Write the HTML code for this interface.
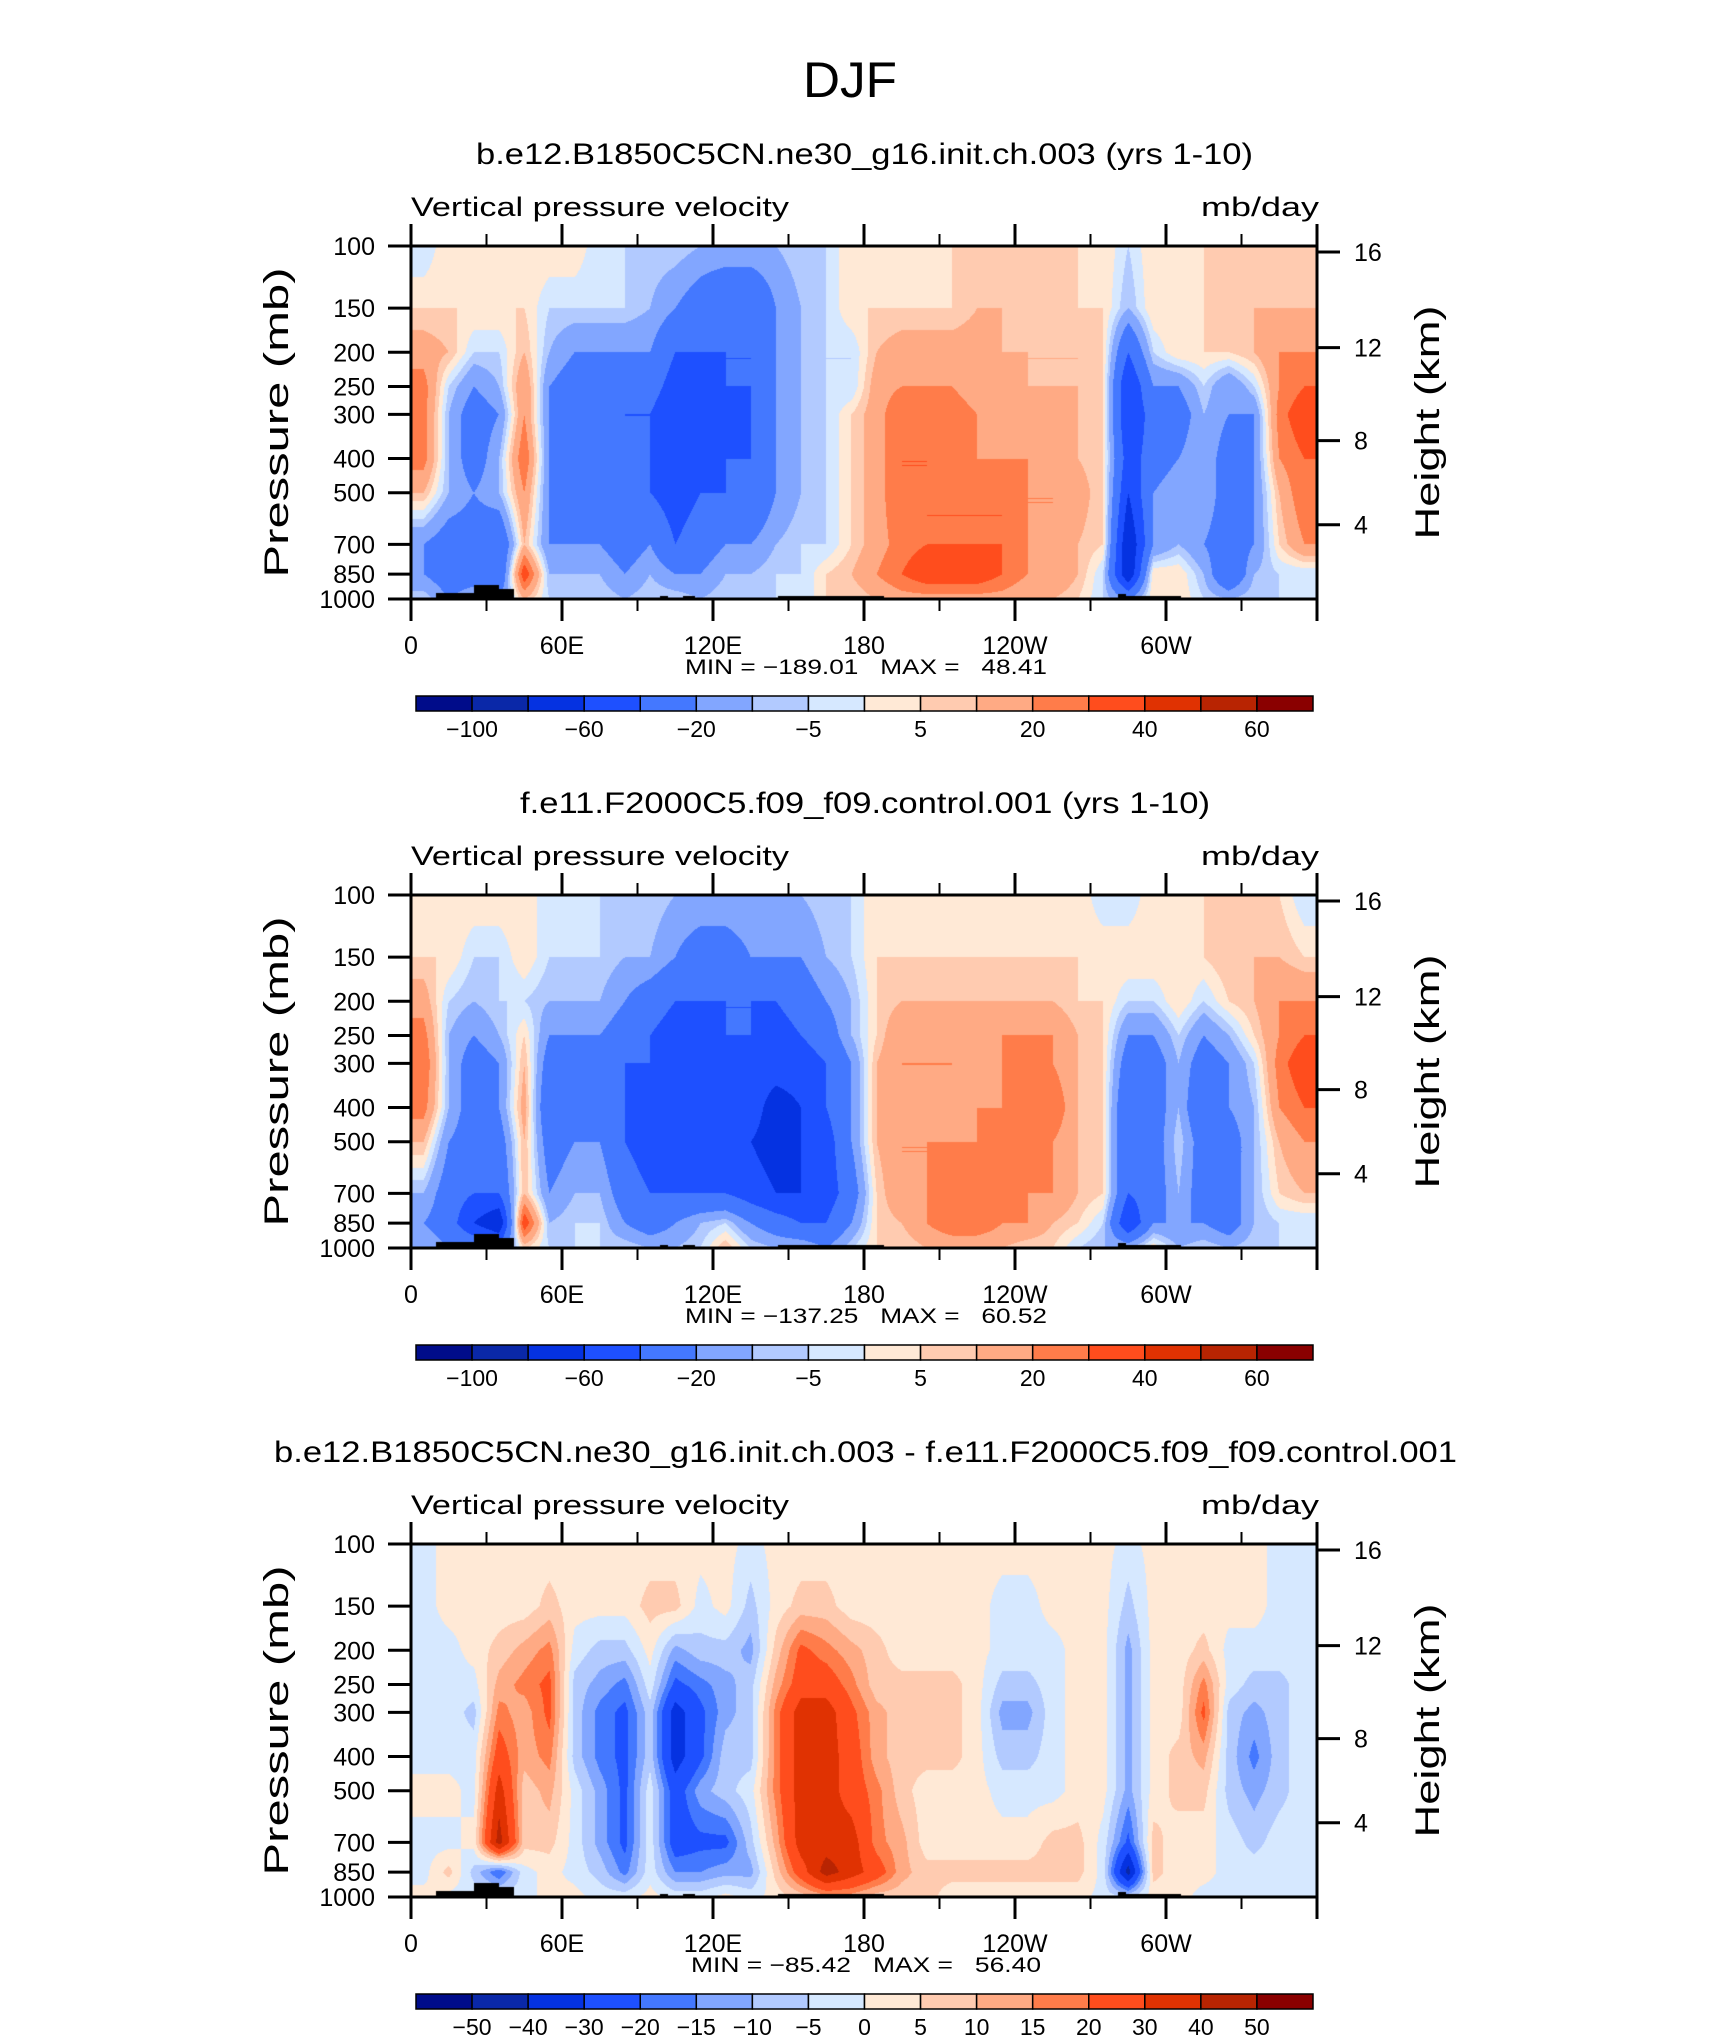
<!DOCTYPE html>
<html><head><meta charset="utf-8"><title>DJF Vertical pressure velocity</title>
<style>
html,body{margin:0;padding:0;background:#fff;}
#root{position:relative;width:1710px;height:2038px;overflow:hidden;background:#fff;}
canvas{position:absolute;}
svg{position:absolute;left:0;top:0;}
text{font-family:"Liberation Sans",sans-serif;fill:#000;white-space:pre;}
</style></head>
<body>
<div id="root">
<canvas id="cv0" width="906" height="353" style="left:411px;top:246px"></canvas>
<canvas id="cv1" width="906" height="353" style="left:411px;top:895px"></canvas>
<canvas id="cv2" width="906" height="353" style="left:411px;top:1544px"></canvas>
<svg id="ov" width="1710" height="2038"></svg>
</div>
<script>
// ---- data ----
const lonCenters = [5,15,25,35,45,55,65,75,85,95,105,115,125,135,145,155,165,175,185,195,205,215,225,235,245,255,265,275,285,295,305,315,325,335,345,355];
const pLevels = [100,150,200,250,300,400,500,700,850,1000];
const panel1Values = [
[-5,5,15,25,25,25,10,-20,-20,-5],[5,5,10,-5,-10,-10,-10,-30,-30,-20],[5,5,-5,-20,-30,-30,-20,-30,-30,-10],[5,5,-5,-10,-20,-10,-10,-40,-40,-20],
[5,5,10,20,20,30,20,10,40,10],[5,-5,-10,-20,-20,-20,-20,-20,-10,-5],[5,-5,-20,-30,-30,-30,-30,-20,-10,-5],[-5,-5,-20,-30,-30,-30,-30,-20,-10,-5],
[-5,-5,-20,-40,-40,-40,-40,-30,-20,-10],[-5,-10,-20,-30,-40,-40,-40,-20,-10,-5],[-5,-20,-40,-50,-60,-60,-50,-40,-20,-5],[-10,-30,-40,-50,-60,-50,-40,-30,-20,-10],
[-10,-40,-40,-40,-50,-40,-40,-20,-10,-5],[-10,-40,-40,-40,-40,-40,-40,-20,-10,-5],[-10,-20,-20,-20,-20,-20,-20,-10,-5,-5],[-5,-10,-10,-10,-10,-10,-10,-5,-5,-5],
[-5,-5,-5,-5,-5,-5,-5,-5,5,5],[5,5,-5,-5,5,5,5,5,10,5],[5,5,10,15,15,15,15,15,20,10],[5,5,15,20,30,30,30,25,30,15],
[5,5,15,20,30,30,30,30,40,15],[5,5,15,20,25,25,30,30,40,15],[5,10,15,15,20,20,30,30,40,15],[5,10,10,15,15,20,30,30,30,15],
[5,5,10,10,15,20,20,20,20,10],[5,10,10,10,15,15,20,20,20,10],[5,5,10,10,10,10,15,10,10,5],[5,5,5,5,5,5,5,5,-5,-5],
[-5,-10,-40,-60,-60,-50,-60,-80,-80,-20],[5,5,-5,-20,-30,-30,-20,-20,5,5],[5,5,5,-20,-30,-20,-10,-10,5,5],[5,5,5,-5,-10,-10,-10,-20,-10,-5],
[5,10,5,-20,-20,-30,-30,-30,-40,-10],[10,10,10,-5,-20,-20,-20,-20,-10,-5],[10,10,20,20,25,20,10,5,-5,-5],[5,10,20,30,40,30,30,20,-5,-5]
];
const panel2Values = [
[5,5,15,25,30,25,10,-10,-20,-10],[5,5,-5,-10,-10,-10,-20,-30,-30,-20],[5,-5,-10,-20,-30,-30,-30,-40,-60,-20],[5,-5,-5,-10,-20,-20,-30,-40,-80,-30],
[5,5,-5,5,10,15,10,10,40,5],[-5,-5,-10,-20,-30,-40,-30,-20,-10,-5],[-5,-5,-10,-20,-30,-30,-20,-10,-5,-5],[-5,-5,-10,-20,-20,-20,-20,-10,-5,-5],
[-5,-10,-20,-30,-40,-40,-40,-30,-20,-5],[-5,-10,-30,-40,-40,-50,-50,-40,-30,-10],[-10,-20,-40,-50,-50,-50,-50,-40,-20,-10],[-10,-30,-40,-50,-60,-60,-50,-40,-10,-5],
[-10,-30,-40,-40,-50,-50,-50,-40,-5,10],[-10,-20,-40,-40,-50,-50,-60,-50,-20,-5],[-10,-20,-40,-50,-50,-70,-70,-60,-30,-10],[-10,-20,-30,-40,-50,-60,-60,-60,-40,-10],
[-5,-10,-20,-30,-40,-40,-50,-50,-40,-20],[-5,-5,-10,-10,-20,-20,-20,-30,-20,-5],[5,5,5,5,10,10,10,5,5,5],[5,5,10,20,20,20,20,20,10,5],
[5,5,10,20,20,20,20,20,20,10],[5,5,10,20,20,20,20,30,30,10],[5,5,10,10,10,20,20,30,30,10],[5,5,10,20,20,20,30,30,20,10],
[5,5,10,20,30,30,30,20,20,5],[5,5,10,20,20,30,20,20,10,5],[5,5,5,10,10,10,10,10,5,-5],[-5,5,5,5,5,5,5,5,-5,-10],
[-5,5,-5,-20,-30,-40,-40,-40,-60,-10],[5,5,-5,-20,-30,-30,-30,-30,-20,5],[5,5,5,-5,-10,-10,-5,-10,-20,-10],[5,5,-5,-20,-30,-40,-30,-30,-20,-5],
[5,10,5,-10,-20,-20,-30,-30,-30,-10],[5,10,10,5,-5,-10,-10,-10,-10,-5],[5,10,20,20,25,20,10,5,-5,-5],[-5,5,20,30,40,30,20,10,-5,-5]
];
const panel3Values = [
[-2,-2,-2,-2,-2,-2,2,-2,-2,2],[2,2,-2,-2,-2,-2,2,-2,7,-2],[2,2,2,-2,-7,-2,-2,2,-7,-2],[2,2,7,12,17,25,35,45,-20,-2],
[2,2,12,17,12,12,7,7,-2,-2],[2,7,17,22,22,17,12,7,2,2],[2,2,-2,-7,-7,-7,-2,-2,-2,2],[2,2,-7,-12,-17,-17,-12,-12,-7,-2],
[2,2,-7,-17,-22,-22,-22,-22,-17,-2],[2,7,2,-2,-7,-7,-2,-2,-2,2],[2,7,-12,-22,-35,-35,-25,-25,-15,-2],[2,-2,-7,-17,-22,-22,-12,-22,-15,-2],
[2,2,-7,-12,-12,-7,-7,-22,-12,2],[-2,-7,-12,-7,-7,-7,-2,-7,-12,-2],[2,2,7,12,17,17,17,12,7,2],[2,7,22,25,35,35,35,35,25,7],
[2,7,17,25,35,35,35,35,45,12],[2,2,12,17,22,25,25,35,35,12],[2,2,7,7,12,12,17,17,25,7],[2,2,2,7,7,7,7,12,12,7],
[2,2,2,7,7,7,2,2,7,7],[2,2,2,7,7,7,2,2,7,2],[2,2,2,2,2,2,2,2,7,2],[2,-2,-2,-7,-12,-7,-2,2,7,2],
[2,-2,-2,-7,-12,-7,-2,2,7,2],[2,2,-2,-2,-2,-2,-2,7,7,2],[2,2,2,2,2,2,2,7,7,2],[2,2,2,2,2,2,2,-2,-2,-2],
[-2,-7,-12,-12,-12,-12,-12,-22,-45,-5],[2,2,2,2,2,2,2,7,7,2],[2,2,2,2,2,7,7,2,2,2],[2,2,7,17,22,12,7,2,2,-2],
[2,2,-2,-2,-7,-7,-7,-2,-2,-2],[2,2,-2,-7,-12,-17,-12,-7,-2,-2],[-2,-2,-2,-7,-7,-7,-7,-2,-2,-2],[-2,-2,-2,-2,-2,-2,-2,-2,-2,-2]
];
const topoStart = [10,25,35,99,108,146,281,284];
const topoEnd   = [25,35,41,102,113,188,284,306];
const topoP     = [962,910,935,980,980,983,965,983];
const levelsAbs  = [-100,-80,-60,-40,-20,-10,-5,0,5,10,20,30,40,50,60];
const levelsDiff = [-50,-40,-30,-20,-15,-10,-5,0,5,10,15,20,30,40,50];
const labelsAbs  = ["","−100","","−60","","−20","","−5","","5","","20","","40","","60",""];
const labelsDiff = ["","−50","−40","−30","−20","−15","−10","−5","0","5","10","15","20","30","40","50",""];
const palette = ["#000c8a","#0a28a8","#0532e1","#1e50ff","#4478ff","#82a6ff","#b2caff","#d6e8ff","#ffe9d6","#ffcbb0","#ffaa84","#ff7c4a","#ff4d1d","#e03202","#b82402","#8a0000"];
const titles = ["b.e12.B1850C5CN.ne30_g16.init.ch.003 (yrs 1-10)","f.e11.F2000C5.f09_f09.control.001 (yrs 1-10)","b.e12.B1850C5CN.ne30_g16.init.ch.003 - f.e11.F2000C5.f09_f09.control.001"];
const minmax = ["MIN = −189.01   MAX =   48.41","MIN = −137.25   MAX =   60.52","MIN = −85.42   MAX =   56.40"];
const pTicks = [100,150,200,250,300,400,500,700,850,1000];
const hTicks = [16,12,8,4];
const hTickP = [104,194,356,616];
const lonTicks = [0,30,60,90,120,150,180,210,240,270,300,330,360];
const lonLabels = ["0","","60E","","120E","","180","","120W","","60W","",""];

// ---- geometry ----
const PX=411, PW=906, PH=353, PY0=246, DY=649;
const xOf = lon => PX + lon/360*PW;
const yOf = (p,k) => PY0 + k*DY + (Math.log10(p)-2)*PH;
const logL = pLevels.map(p=>Math.log10(p));

function classOf(v, lev){
  let c=0;
  for(const b of lev){ if(v<0 ? v>=b : v>b) c++; }
  return c;
}
function sample(vals, lon, lp){
  let fi=(lon-5)/10; fi=Math.max(0,Math.min(lonCenters.length-1.0001,fi));
  const i=Math.floor(fi), tx=fi-i;
  let j=0; while(j<logL.length-2 && lp>logL[j+1]) j++;
  let ty=(lp-logL[j])/(logL[j+1]-logL[j]); ty=Math.max(0,Math.min(1,ty));
  const a=vals[i][j], b=vals[i+1][j], c=vals[i][j+1], d=vals[i+1][j+1];
  return (a*(1-tx)+b*tx)*(1-ty)+(c*(1-tx)+d*tx)*ty;
}
function hex(h){return [parseInt(h.slice(1,3),16),parseInt(h.slice(3,5),16),parseInt(h.slice(5,7),16)];}
const palRGB = palette.map(hex);
function drawPanel(k, vals, lev){
  const cv=document.getElementById('cv'+k), ctx=cv.getContext('2d');
  const img=ctx.createImageData(PW,PH);
  for(let y=0;y<PH;y++){
    const lp=2+(y+0.5)/PH, p=Math.pow(10,lp);
    for(let x=0;x<PW;x++){
      const lon=(x+0.5)/PW*360;
      let col;
      let topo=false;
      for(let t=0;t<topoStart.length;t++){ if(lon>=topoStart[t]&&lon<topoEnd[t]&&p>=topoP[t]){topo=true;break;} }
      if(topo) col=[0,0,0];
      else col=palRGB[classOf(sample(vals,lon,lp),lev)];
      const o=(y*PW+x)*4; img.data[o]=col[0];img.data[o+1]=col[1];img.data[o+2]=col[2];img.data[o+3]=255;
    }
  }
  ctx.putImageData(img,0,0);
}
drawPanel(0,panel1Values,levelsAbs);
drawPanel(1,panel2Values,levelsAbs);
drawPanel(2,panel3Values,levelsDiff);

// ---- overlay ----
const NS="http://www.w3.org/2000/svg", ov=document.getElementById('ov');
function el(tag,attrs,txt){const e=document.createElementNS(NS,tag);for(const k in attrs)e.setAttribute(k,attrs[k]);if(txt!==undefined)e.textContent=txt;ov.appendChild(e);return e;}
let e;
e=el('text',{x:850,y:97,'font-size':50,'text-anchor':'middle',textLength:94,lengthAdjust:'spacingAndGlyphs'},'DJF');


const titleX=[476,520,274], titleW=[777,690,1183];
for(let k=0;k<3;k++){
  const o=k*DY, top=PY0+o, bot=top+PH;
  e=el('text',{x:titleX[k],y:164+o,'font-size':30,textLength:titleW[k],lengthAdjust:'spacingAndGlyphs'},titles[k]);
  
  
  e=el('text',{x:411,y:216+o,'font-size':27,textLength:378,lengthAdjust:'spacingAndGlyphs'},'Vertical pressure velocity');
  
  
  e=el('text',{x:1319,y:216+o,'font-size':27,'text-anchor':'end',textLength:118,lengthAdjust:'spacingAndGlyphs'},'mb/day');
  
  
  e=el('rect',{x:PX,y:top,width:PW,height:PH,fill:'none',stroke:'#000','stroke-width':3});
  
  
  pTicks.forEach(p=>{
    const y=yOf(p,k);
    e=el('line',{x1:388,x2:PX,y1:y,y2:y,stroke:'#000','stroke-width':3});
    
    
    e=el('text',{x:375,y:y+9,'font-size':25,'text-anchor':'end'},String(p));
    
    
  });
  hTicks.forEach((h,i)=>{
    const y=yOf(hTickP[i],k);
    e=el('line',{x1:PX+PW,x2:1340,y1:y,y2:y,stroke:'#000','stroke-width':3});
    
    
    e=el('text',{x:1354,y:y+9,'font-size':25},String(h));
    
    
  });
  lonTicks.forEach((lon,i)=>{
    const x=xOf(lon), major=(lon%60===0);
    const len=major?22:12;
    e=el('line',{x1:x,x2:x,y1:top-len,y2:top,stroke:'#000','stroke-width':major?3:2});
    
    
    e=el('line',{x1:x,x2:x,y1:bot,y2:bot+len,stroke:'#000','stroke-width':major?3:2});
    
    
    if(lonLabels[i]){
      e=el('text',{x:x,y:bot+55,'font-size':25,'text-anchor':'middle'},lonLabels[i]);
      
      
    }
  });
  e=el('text',{transform:`translate(288,${top+PH/2}) rotate(-90)`,'font-size':34,'text-anchor':'middle',textLength:310,lengthAdjust:'spacingAndGlyphs'},'Pressure (mb)');
  
  
  e=el('text',{transform:`translate(1439,${top+PH/2}) rotate(-90)`,'font-size':34,'text-anchor':'middle',textLength:234,lengthAdjust:'spacingAndGlyphs'},'Height (km)');
  
  
  e=el('text',{x:866,y:bot+75,'font-size':21,'text-anchor':'middle',textLength:k==2?350:362,lengthAdjust:'spacingAndGlyphs','xml:space':'preserve'},minmax[k]);
  
  
  const cbX=416, cbW=897, cbY=696+o, cbH=15, bw=cbW/16;
  const labs = k==2?labelsDiff:labelsAbs;
  for(let i=0;i<16;i++){
    e=el('rect',{x:cbX+i*bw,y:cbY,width:bw,height:cbH,fill:palette[i],stroke:'#000','stroke-width':1.5});
    
    
  }
  for(let i=1;i<16;i++){
    if(labs[i]){
      e=el('text',{x:cbX+i*bw,y:cbY+41,'font-size':23,'text-anchor':'middle'},labs[i]);
      
      
    }
  }
}
</script>
</body></html>
